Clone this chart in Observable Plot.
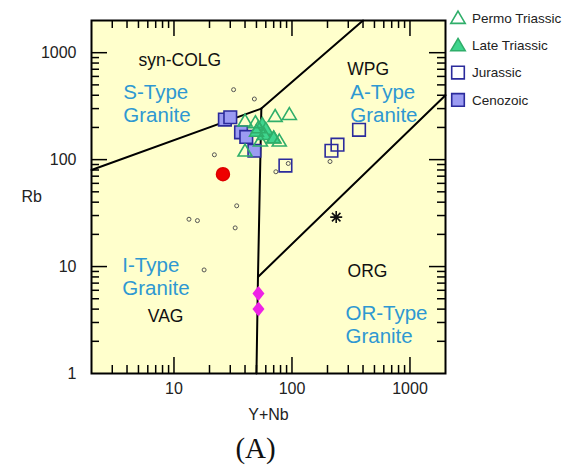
<!DOCTYPE html>
<html><head><meta charset="utf-8">
<script src="https://cdn.jsdelivr.net/npm/d3@7"></script>
<script src="https://cdn.jsdelivr.net/npm/@observablehq/plot@0.6"></script>
<style>
body{margin:0;background:#fff;}
#chart svg{display:block;}
</style>
</head><body><div id="chart"></div>
<script>
// ---- data (Y+Nb, Rb) ----
const permoTriassic = [[72,255],[95,266],[40,121],[78,150],[40,231],[49,223],[54,150],[52,200],[70,160]];
const lateTriassic = [[56,215],[60,193],[58,173],[70,161],[50,185]];
const jurassic = [[88,88],[216,121],[243,138],[370,190]];
const cenozoic = [[27,237],[30,249],[37,180],[41,163],[48,121]];
const smallSamples = [[32,451],[48,369],[22,111],[34,37],[13.4,27.7],[15.8,26.9],[33,23],[18,9.3],[73,77],[93,92],[210,96],[64,162]];
const redSample = [[26,73]];
const magentaSamples = [[52,5.6],[52,4.0]];
const starSample = [[237,29]];

// Pearce et al. (1984) boundaries
const lineVAG_COLG = [[2,80],[55,300]];
const lineCOLG_WPG = [[55,300],[400,2000]];
const lineVertical = [[55,300],[51.5,8],[50,1]];
const lineWPG_ORG = [[51.5,8],[2000,400]];

// field names
const blackLabels = [
  {t:"syn-COLG", x:11.2, y:842},
  {t:"WPG", x:443, y:693},
  {t:"VAG", x:8.5, y:3.4},
  {t:"ORG", x:437, y:9.1}
];
const blueLabels = [
  {t:"S-Type\nGranite", x:3.72, y:337},
  {t:"A-Type\nGranite", x:312, y:337},
  {t:"I-Type\nGranite", x:3.65, y:8.15},
  {t:"OR-Type\nGranite", x:284, y:2.87}
];

const xTickLabels = [10,100,1000];
const yTickLabels = [1,10,100,1000];
const xMajor = [10,100,1000];
const xMinor = [3,4,5,6,7,8,9,20,30,40,50,60,70,80,90,200,300,400,500,600,700,800,900];
const yMajor = [10,100,1000];
const yMinor = [2,3,4,5,6,7,8,9,20,30,40,50,60,70,80,90,200,300,400,500,600,700,800,900];

const legendNames = ["Permo Triassic","Late Triassic","Jurassic","Cenozoic"];

// ---- styles ----
const W = 564, H = 470, mL = 91, mR = 119, mT = 20, mB = 97;
const FW = W - mL - mR, FH = H - mT - mB;
const green = "#2fae6a", greenFill = "#3fd58e", navy = "#2b2b9c", lilac = "#9b9bf2";
const blue = "#2e98d2";
const font = "'Liberation Sans', Arial, sans-serif";

// custom symbols (size = pi r^2)
const rr = s => Math.sqrt(s/Math.PI);
const triSym = {draw(c,s){const r=rr(s); c.moveTo(0,-0.95*r); c.lineTo(r,0.75*r); c.lineTo(-r,0.75*r); c.closePath();}};
const sqSym = {draw(c,s){const r=rr(s); c.rect(-r,-r,2*r,2*r);}};
const diaSym = {draw(c,s){const r=rr(s); c.moveTo(0,-r); c.lineTo(0.8*r,0); c.lineTo(0,r); c.lineTo(-0.8*r,0); c.closePath();}};
const starSym = {draw(c,s){const r=rr(s); for(let i=0;i<4;i++){const a=i*Math.PI/4; c.moveTo(-r*Math.cos(a),-r*Math.sin(a)); c.lineTo(r*Math.cos(a),r*Math.sin(a));}}};

const X = d => d[0], Y = d => d[1];
const tickStyle = {stroke:"black", strokeWidth:1.5};

const plot = Plot.plot({
  width: W, height: H,
  marginLeft: mL, marginRight: mR, marginTop: mT, marginBottom: mB,
  style: {fontFamily: font, background: "#fff"},
  x: {type:"log", domain:[2,2000], axis:null},
  y: {type:"log", domain:[1,2000], axis:null},
  marks: [
    Plot.frame({fill:"#ffffcc", stroke:null}),
    // inward ticks
    Plot.ruleX(xMajor, {x:d=>d, insetTop: FH-16, ...tickStyle}),
    Plot.ruleX(xMinor, {x:d=>d, insetTop: FH-8, ...tickStyle}),
    Plot.ruleX(xMajor, {x:d=>d, insetBottom: FH-16, ...tickStyle}),
    Plot.ruleX(xMinor, {x:d=>d, insetBottom: FH-8, ...tickStyle}),
    Plot.ruleY(yMajor, {y:d=>d, insetRight: FW-16, ...tickStyle}),
    Plot.ruleY(yMinor, {y:d=>d, insetRight: FW-8, ...tickStyle}),
    Plot.ruleY(yMajor, {y:d=>d, insetLeft: FW-16, ...tickStyle}),
    Plot.ruleY(yMinor, {y:d=>d, insetLeft: FW-8, ...tickStyle}),
    // boundaries
    Plot.line(lineVAG_COLG, {x:X, y:Y, stroke:"black", strokeWidth:2}),
    Plot.line(lineCOLG_WPG, {x:X, y:Y, stroke:"black", strokeWidth:2}),
    Plot.line(lineVertical, {x:X, y:Y, stroke:"black", strokeWidth:2}),
    Plot.line(lineWPG_ORG, {x:X, y:Y, stroke:"black", strokeWidth:2}),
    // field labels
    Plot.text(blackLabels, {x:"x", y:"y", text:"t", fontSize:17.5, fill:"#111"}),
    Plot.text(blueLabels, {x:"x", y:"y", text:"t", fontSize:20.5, fill:blue, textAnchor:"start", lineHeight:1.12}),
    // samples
    Plot.dot(smallSamples, {x:X, y:Y, r:2, stroke:"#555", strokeWidth:1, fill:"none"}),
    Plot.dot(redSample, {x:X, y:Y, r:6.5, fill:"#ee0000", stroke:"#dd0000"}),
    Plot.dot(magentaSamples, {x:X, y:Y, r:7.5, symbol:diaSym, fill:"#ee22e6", stroke:"none"}),
    Plot.dot(starSample, {x:X, y:Y, r:6, symbol:starSym, stroke:"#111", strokeWidth:1.6, fill:"none"}),
    Plot.dot(jurassic, {x:X, y:Y, r:6.3, symbol:sqSym, stroke:navy, strokeWidth:1.6, fill:"none"}),
    Plot.dot(cenozoic, {x:X, y:Y, r:6.3, symbol:sqSym, stroke:navy, strokeWidth:1.6, fill:lilac}),
    Plot.dot(lateTriassic, {x:X, y:Y, r:7, symbol:triSym, stroke:green, strokeWidth:1.5, fill:greenFill}),
    Plot.dot(permoTriassic, {x:X, y:Y, r:7, symbol:triSym, stroke:green, strokeWidth:1.6, fill:"none"}),
    // frame
    Plot.frame({stroke:"black", strokeWidth:2}),
    // tick labels and axis titles
    Plot.text(xTickLabels, {x:d=>d, frameAnchor:"bottom", dy:20, text:d=>String(d), fontSize:16, fill:"#222"}),
    Plot.text(yTickLabels, {y:d=>d, frameAnchor:"left", dx:-15, text:d=>String(d), fontSize:16, fill:"#222", textAnchor:"end"}),
    Plot.text(["Rb"], {frameAnchor:"left", dx:-70, fontSize:16, fill:"#222"}),
    Plot.text(["Y+Nb"], {frameAnchor:"bottom", dy:46, fontSize:16, fill:"#222"}),
    Plot.text(["(A)"], {frameAnchor:"bottom", dy:84, dx:-13, fontSize:29, fill:"#111", fontFamily:"'Liberation Serif','Times New Roman',serif"})
  ]
});
document.getElementById("chart").appendChild(plot);

// legend (top right)
const svg = d3.select(plot);
const legendStyles = [
  {sym:triSym, fill:"none", stroke:green},
  {sym:triSym, fill:greenFill, stroke:green},
  {sym:sqSym, fill:"#fff", stroke:navy},
  {sym:sqSym, fill:lilac, stroke:navy}
];
const lg = svg.append("g").attr("text-anchor","start");
legendNames.forEach((name,i)=>{
  const cy = 18 + i*27.3;
  const st = legendStyles[i];
  lg.append("path")
    .attr("d", d3.symbol().type(st.sym).size(Math.PI*(st.sym===triSym?7.2:6.3)**2)())
    .attr("transform", `translate(458,${cy})`)
    .attr("fill", st.fill).attr("stroke", st.stroke).attr("stroke-width",1.6);
  lg.append("text").attr("x",472).attr("y",cy).attr("dy","0.35em")
    .attr("text-anchor","start")
    .attr("font-size",13.5).attr("fill","#222").attr("font-family",font).text(name);
});
</script>
</body></html>
